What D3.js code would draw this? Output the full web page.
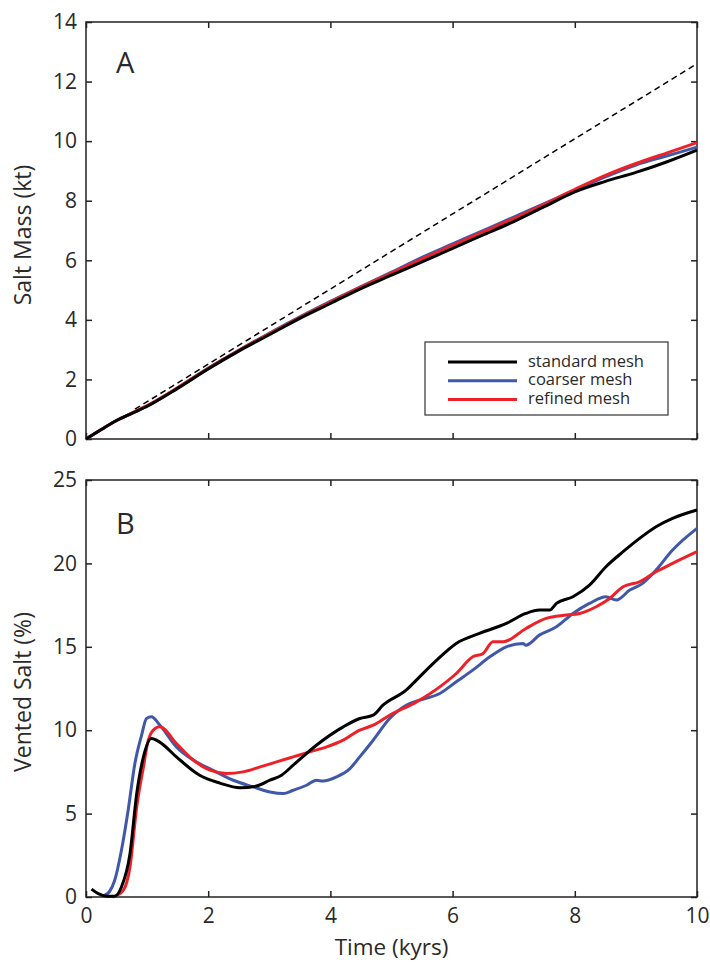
<!DOCTYPE html>
<html>
  <head>
    <meta charset="utf-8">
    <title>Salt mass and vented salt</title>
    <style>
      body{ margin: 0; background: #fff; }
      svg text{ font-family: "Open Sans", "Noto Sans", sans-serif; fill: #2a2a2a; }
      .frame{ fill: none; stroke: #222; stroke-width: 1.5px; }
    </style>
  </head>
  <body>
  <script src="https://cdn.jsdelivr.net/npm/d3@7"></script>
  <script>
const width = 710;
const height = 962;

// series names and colours
const seriesNames = ['standard mesh', 'coarser mesh', 'refined mesh'];
const seriesColors = ['#000000', '#3f58a8', '#ee2028'];

// panel A: salt mass (kt) vs time (kyrs)
const massTime = [0, 0.25, 0.5, 0.75, 1, 1.5, 2, 2.5, 3, 3.5, 4, 4.5, 5, 5.5, 6, 6.5, 7, 7.5, 8, 8.5, 9, 9.5, 10];
const massStandard = [0, 0.32, 0.62, 0.86, 1.1, 1.7, 2.35, 2.95, 3.5, 4.05, 4.55, 5.05, 5.5, 5.95, 6.4, 6.85, 7.3, 7.8, 8.3, 8.65, 8.95, 9.3, 9.7];
const massCoarser = [0, 0.32, 0.62, 0.86, 1.1, 1.72, 2.38, 2.98, 3.55, 4.1, 4.62, 5.12, 5.6, 6.1, 6.55, 7.0, 7.45, 7.9, 8.35, 8.8, 9.2, 9.5, 9.8];
const massRefined = [0, 0.32, 0.62, 0.87, 1.12, 1.72, 2.37, 2.97, 3.53, 4.08, 4.6, 5.1, 5.57, 6.05, 6.5, 6.95, 7.4, 7.88, 8.38, 8.85, 9.25, 9.6, 9.95];
// dashed reference line
const refTime = [0.8, 10];
const refMass = [1.0, 12.6];

// panel B: vented salt (%) vs time (kyrs)
const ventStandardTime = [0.09, 0.2, 0.34, 0.47, 0.58, 0.72, 0.83, 0.94, 1.07, 1.2, 1.48, 1.86, 2.19, 2.52, 2.79, 3.01, 3.2, 3.39, 3.77, 4.21, 4.48, 4.7, 4.86, 5.24, 5.46, 5.74, 6.06, 6.44, 6.88, 7.2, 7.42, 7.59, 7.7, 7.97, 8.24, 8.51, 8.79, 9.06, 9.33, 9.6, 10];
const ventStandard = [0.47, 0.2, 0.05, 0.05, 0.6, 2.6, 6.2, 8.4, 9.5, 9.3, 8.4, 7.3, 6.83, 6.55, 6.65, 7.0, 7.3, 7.9, 9.1, 10.2, 10.7, 10.9, 11.5, 12.4, 13.2, 14.2, 15.2, 15.8, 16.4, 17.0, 17.2, 17.2, 17.6, 18.0, 18.7, 19.8, 20.7, 21.5, 22.2, 22.7, 23.2];

const ventCoarserTime = [0.3, 0.38, 0.47, 0.58, 0.69, 0.8, 0.91, 0.99, 1.07, 1.21, 1.48, 1.76, 2.08, 2.41, 2.74, 3.01, 3.23, 3.39, 3.61, 3.77, 3.88, 4.1, 4.32, 4.48, 4.7, 4.97, 5.24, 5.46, 5.79, 6.06, 6.33, 6.61, 6.88, 7.15, 7.2, 7.42, 7.7, 7.97, 8.24, 8.51, 8.68, 8.9, 9.11, 9.33, 9.6, 10];
const ventCoarser = [0.1, 0.3, 1.0, 2.8, 5.2, 8.0, 9.7, 10.7, 10.8, 10.3, 9.0, 8.2, 7.6, 7.0, 6.6, 6.3, 6.2, 6.4, 6.7, 7.0, 6.95, 7.2, 7.7, 8.4, 9.4, 10.7, 11.5, 11.8, 12.2, 12.9, 13.6, 14.4, 15.0, 15.2, 15.1, 15.7, 16.2, 17.0, 17.6, 18.0, 17.8, 18.4, 18.8, 19.6, 20.8, 22.1];

const ventRefinedTime = [0.44, 0.61, 0.72, 0.83, 0.94, 1.02, 1.13, 1.21, 1.48, 1.76, 2.03, 2.3, 2.57, 2.85, 3.12, 3.39, 3.66, 3.94, 4.21, 4.48, 4.7, 4.97, 5.41, 5.79, 6.06, 6.33, 6.5, 6.66, 6.83, 7.2, 7.53, 7.86, 8.08, 8.35, 8.57, 8.79, 9.06, 9.33, 9.6, 10];
const ventRefined = [0.0, 0.4, 1.8, 5.4, 7.8, 9.4, 10.1, 10.2, 9.2, 8.2, 7.6, 7.4, 7.5, 7.8, 8.1, 8.4, 8.7, 9.0, 9.4, 10.0, 10.3, 10.9, 11.7, 12.6, 13.4, 14.4, 14.6, 15.3, 15.3, 16.1, 16.7, 16.9, 17.0, 17.4, 17.9, 18.6, 18.9, 19.5, 20.0, 20.7];

const xTicks = [0, 2, 4, 6, 8, 10];
const massTicks = [0, 2, 4, 6, 8, 10, 12, 14];
const ventTicks = [0, 5, 10, 15, 20, 25];

const left = 86, right = 697;

const svg = d3.select('body')
  .append('svg')
  .attr('width', width)
  .attr('height', height);

const x = d3.scaleLinear().domain([0, 10]).range([left, right]);
const yMass = d3.scaleLinear().domain([0, 14]).range([439, 22]);
const yVent = d3.scaleLinear().domain([0, 25]).range([897, 480]);

function zip(ts, vs) {
  return ts.map((t, i) => [t, vs[i]]);
}

function drawFrame(y, yTicks, showXLabels) {
  const g = svg.append('g');
  const top = y.range()[1], bottom = y.range()[0];

  g.append('g')
    .attr('transform', `translate(0,${bottom})`)
    .call(d3.axisBottom(x).tickValues(xTicks).tickSizeInner(-6).tickSizeOuter(0)
      .tickFormat(showXLabels ? d3.format('d') : ''))
    .call((a) => a.select('.domain').remove())
    .call((a) => a.selectAll('text').attr('y', 11).attr('dy', '0.71em').style('font-size', '21px'));

  g.append('g')
    .attr('transform', `translate(0,${top})`)
    .call(d3.axisTop(x).tickValues(xTicks).tickSizeInner(-6).tickSizeOuter(0).tickFormat(''))
    .call((a) => a.select('.domain').remove());

  g.append('g')
    .attr('transform', `translate(${left},0)`)
    .call(d3.axisLeft(y).tickValues(yTicks).tickSizeInner(-6).tickSizeOuter(0).tickFormat(d3.format('d')))
    .call((a) => a.select('.domain').remove())
    .call((a) => a.selectAll('text').attr('x', -9).style('font-size', '21px'));

  g.append('g')
    .attr('transform', `translate(${right},0)`)
    .call(d3.axisRight(y).tickValues(yTicks).tickSizeInner(-6).tickSizeOuter(0).tickFormat(''))
    .call((a) => a.select('.domain').remove());

  g.selectAll('.tick line').attr('stroke', '#222').attr('stroke-width', 1.5);

  g.append('rect')
    .attr('class', 'frame')
    .attr('x', left)
    .attr('y', top)
    .attr('width', right - left)
    .attr('height', bottom - top);
}

function drawLines(y, series) {
  const line = d3.line()
    .x((d) => x(d[0]))
    .y((d) => y(d[1]))
    .curve(d3.curveMonotoneX);

  series.forEach((s) => {
    svg.append('path')
      .datum(s.points)
      .attr('fill', 'none')
      .attr('stroke', s.color)
      .attr('stroke-width', 3)
      .attr('stroke-linejoin', 'round')
      .attr('d', line);
  });
}

// panel A
drawFrame(yMass, massTicks, false);

svg.append('path')
  .datum(zip(refTime, refMass))
  .attr('fill', 'none')
  .attr('stroke', '#000')
  .attr('stroke-width', 1.5)
  .attr('stroke-dasharray', '6,4')
  .attr('d', d3.line().x((d) => x(d[0])).y((d) => yMass(d[1])));

drawLines(yMass, [
  { color: seriesColors[1], points: zip(massTime, massCoarser) },
  { color: seriesColors[2], points: zip(massTime, massRefined) },
  { color: seriesColors[0], points: zip(massTime, massStandard) }
]);

// panel B
drawFrame(yVent, ventTicks, true);

drawLines(yVent, [
  { color: seriesColors[1], points: zip(ventCoarserTime, ventCoarser) },
  { color: seriesColors[2], points: zip(ventRefinedTime, ventRefined) },
  { color: seriesColors[0], points: zip(ventStandardTime, ventStandard) }
]);

// panel letters
svg.append('text').attr('x', 116).attr('y', 73).style('font-size', '29px').text('A');
svg.append('text').attr('x', 116).attr('y', 534).style('font-size', '29px').text('B');

// axis titles
svg.append('text')
  .attr('transform', 'translate(31,235) rotate(-90)')
  .attr('text-anchor', 'middle')
  .style('font-size', '23px')
  .text('Salt Mass (kt)');

svg.append('text')
  .attr('transform', 'translate(31,692) rotate(-90)')
  .attr('text-anchor', 'middle')
  .style('font-size', '23px')
  .text('Vented Salt (%)');

svg.append('text')
  .attr('x', (left + right) / 2)
  .attr('y', 955)
  .attr('text-anchor', 'middle')
  .style('font-size', '22.5px')
  .text('Time (kyrs)');

// legend
const legend = svg.append('g').attr('transform', 'translate(425,342)');
legend.append('rect')
  .attr('width', 243)
  .attr('height', 73)
  .attr('fill', '#fff')
  .attr('stroke', '#333')
  .attr('stroke-width', 1.2);

seriesNames.forEach((name, i) => {
  const yy = 20 + i * 18.7;
  legend.append('line')
    .attr('x1', 23).attr('x2', 92)
    .attr('y1', yy).attr('y2', yy)
    .attr('stroke', seriesColors[i])
    .attr('stroke-width', 3);
  legend.append('text')
    .attr('x', 103)
    .attr('y', yy + 4.5)
    .style('font-size', '16.5px')
    .text(name);
});
  </script>
  </body>
</html>
